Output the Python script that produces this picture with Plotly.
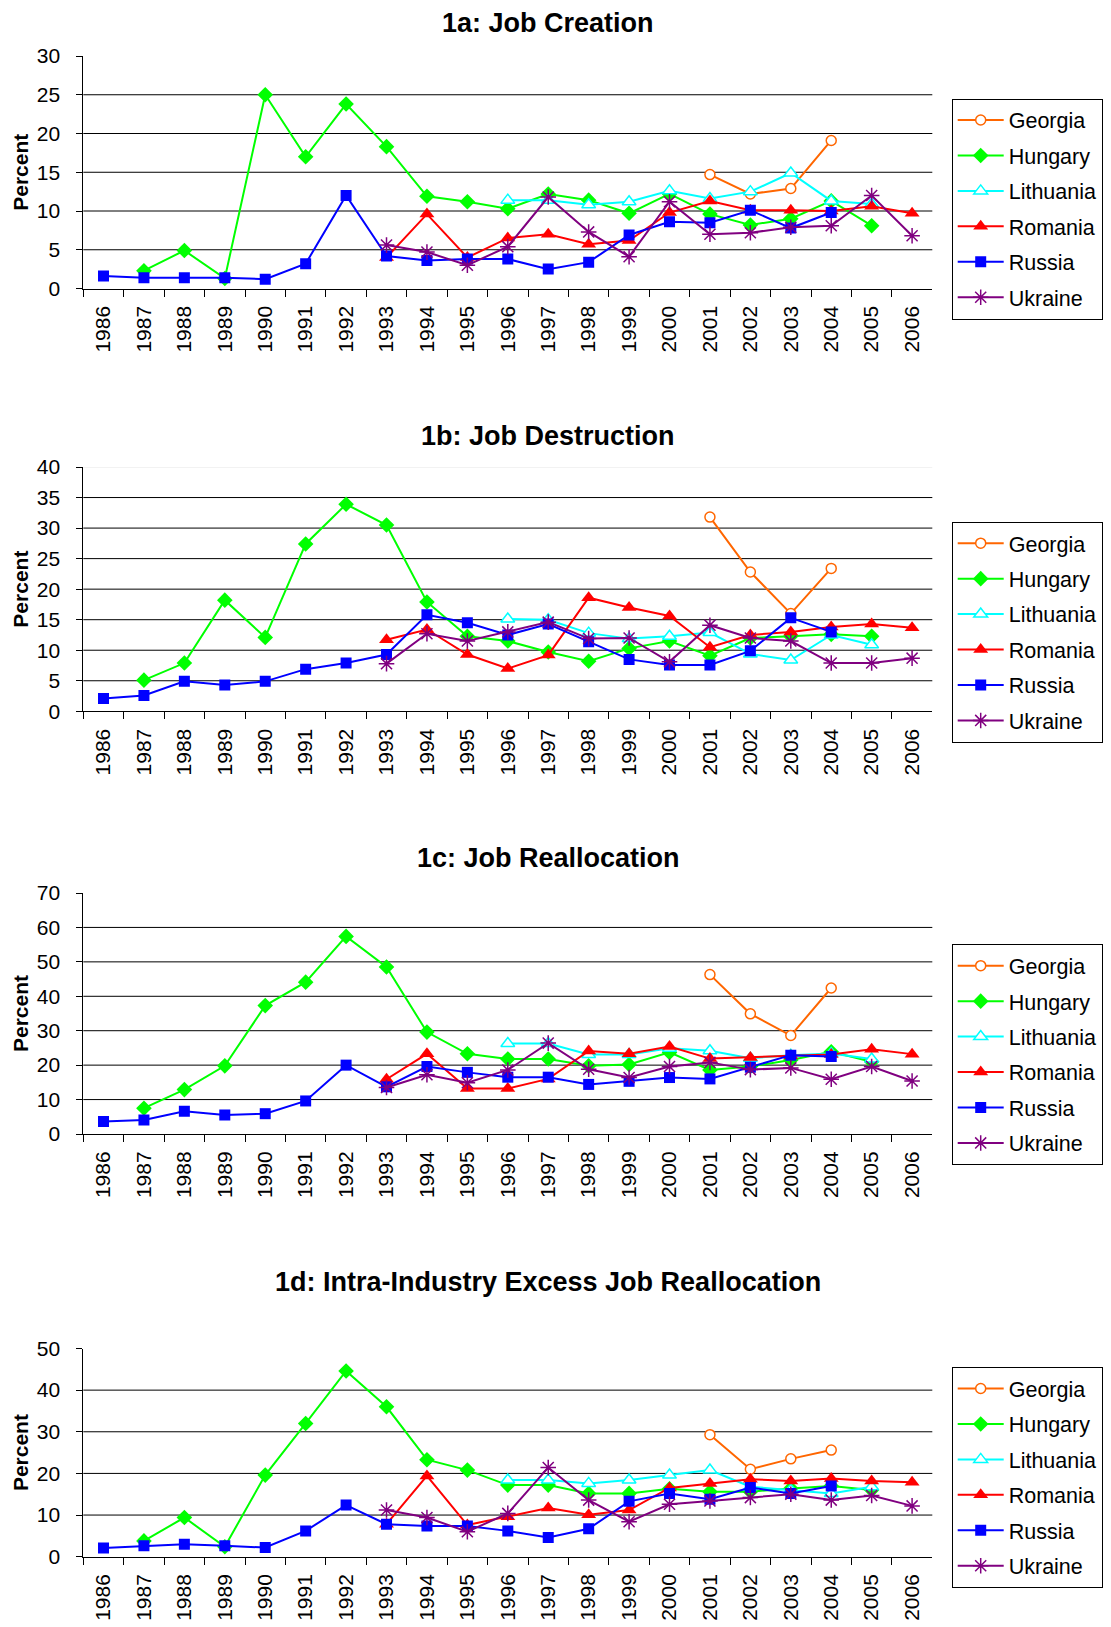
import plotly.graph_objects as go

# ---------------- data ----------------
years = ["1986", "1987", "1988", "1989", "1990", "1991", "1992", "1993", "1994", "1995",
         "1996", "1997", "1998", "1999", "2000", "2001", "2002", "2003", "2004", "2005", "2006"]
countries = ["Georgia", "Hungary", "Lithuania", "Romania", "Russia", "Ukraine"]
N = None

# 1a: Job Creation
a_georgia = [N]*15 + [14.7, 12.2, 12.9, 19.1, N, N]
a_hungary = [N, 2.3, 4.9, 1.3, 25.0, 17.0, 23.8, 18.3, 11.9, 11.2, 10.3, 12.2, 11.4, 9.7, 12.2, 9.6, 8.2, 9.0, 11.3, 8.1, N]
a_lithuania = [N]*10 + [11.4, 11.4, 10.8, 11.2, 12.6, 11.6, 12.5, 14.9, 11.3, 10.9, N]
a_romania = [N]*7 + [4.0, 9.6, 4.0, 6.5, 7.0, 5.7, 6.2, 9.8, 11.3, 10.1, 10.1, 10.0, 10.6, 9.7]
a_russia = [1.6, 1.4, 1.4, 1.4, 1.2, 3.2, 12.0, 4.2, 3.6, 3.8, 3.8, 2.5, 3.4, 6.9, 8.6, 8.5, 10.1, 7.8, 9.8, N, N]
a_ukraine = [N]*7 + [5.6, 4.7, 3.0, 5.4, 11.8, 7.3, 4.1, 11.2, 7.0, 7.2, 7.9, 8.1, 12.0, 6.8]

# 1b: Job Destruction
b_georgia = [N]*15 + [31.8, 22.8, 16.0, 23.4, N, N]
b_hungary = [N, 5.1, 7.9, 18.2, 12.1, 27.4, 33.9, 30.5, 17.9, 12.3, 11.5, 9.7, 8.2, 10.3, 11.5, 9.1, 12.0, 12.3, 12.6, 12.3, N]
b_lithuania = [N]*10 + [15.1, 15.0, 12.8, 11.9, 12.3, 12.9, 9.4, 8.4, 12.5, 10.9, N]
b_romania = [N]*7 + [11.7, 13.4, 9.3, 7.0, 9.2, 18.6, 17.0, 15.6, 10.5, 12.5, 13.0, 13.8, 14.3, 13.7]
b_russia = [2.1, 2.6, 4.9, 4.3, 4.9, 6.9, 7.9, 9.3, 15.8, 14.5, 12.5, 14.3, 11.4, 8.5, 7.6, 7.6, 9.9, 15.3, 13.0, N, N]
b_ukraine = [N]*7 + [7.8, 12.7, 11.5, 13.0, 14.6, 11.9, 12.0, 8.1, 14.1, 12.0, 11.5, 7.9, 7.9, 8.7]

# 1c: Job Reallocation
c_georgia = [N]*15 + [46.3, 34.9, 28.6, 42.4, N, N]
c_hungary = [N, 7.5, 12.9, 19.8, 37.3, 44.1, 57.4, 48.5, 29.6, 23.3, 21.8, 21.8, 19.8, 20.2, 23.7, 18.6, 19.6, 21.5, 23.9, 21.0, N]
c_lithuania = [N]*10 + [26.3, 26.3, 23.1, 23.1, 24.9, 24.2, 22.0, 22.9, 23.4, 21.8, N]
c_romania = [N]*7 + [15.9, 23.3, 13.2, 13.2, 16.0, 24.1, 23.3, 25.4, 21.9, 22.2, 22.7, 23.1, 24.6, 23.2]
c_russia = [3.6, 4.1, 6.6, 5.5, 5.9, 9.6, 20.0, 13.7, 19.6, 17.9, 16.5, 16.5, 14.4, 15.3, 16.4, 16.0, 19.4, 22.9, 22.5, N, N]
c_ukraine = [N]*7 + [13.5, 17.2, 14.9, 18.6, 26.4, 18.8, 16.4, 19.6, 20.8, 18.7, 19.2, 15.9, 19.6, 15.4]

# 1d: Intra-Industry Excess Job Reallocation
d_georgia = [N]*15 + [29.3, 21.0, 23.5, 25.6, N, N]
d_hungary = [N, 3.8, 9.4, 2.4, 19.6, 32.0, 44.6, 36.0, 23.3, 20.8, 17.2, 17.2, 15.2, 15.2, 16.3, 15.6, 15.6, 16.4, 17.0, 16.0, N]
d_lithuania = [N]*10 + [18.4, 18.4, 17.6, 18.4, 19.6, 20.8, 16.8, 16.0, 15.2, 16.8, N]
d_romania = [N]*7 + [7.8, 19.4, 7.6, 9.6, 11.7, 10.1, 11.2, 16.5, 17.6, 18.6, 18.2, 18.8, 18.2, 17.9]
d_russia = [2.1, 2.6, 3.0, 2.6, 2.2, 6.2, 12.4, 7.8, 7.4, 7.4, 6.2, 4.6, 6.7, 13.3, 15.2, 13.8, 16.6, 15.2, 17.0, N, N]
d_ukraine = [N]*7 + [11.2, 9.4, 6.0, 10.4, 21.4, 13.6, 8.4, 12.6, 13.4, 14.2, 15.0, 13.6, 14.7, 12.2]

panel_titles = ["1a: Job Creation", "1b: Job Destruction", "1c: Job Reallocation",
                "1d: Intra-Industry Excess Job Reallocation"]
y_max = [30, 40, 70, 50]
y_step = [5, 5, 10, 10]
panel_data = [
    [a_georgia, a_hungary, a_lithuania, a_romania, a_russia, a_ukraine],
    [b_georgia, b_hungary, b_lithuania, b_romania, b_russia, b_ukraine],
    [c_georgia, c_hungary, c_lithuania, c_romania, c_russia, c_ukraine],
    [d_georgia, d_hungary, d_lithuania, d_romania, d_russia, d_ukraine],
]

# ---------------- styling ----------------
OFF = 8  # browser body margin compensation
W, H = 1111 - OFF, 1627 - OFF
FONT = "Liberation Sans, Arial, sans-serif"
line_colors = {"Georgia": "#FF6600", "Hungary": "#00FF00", "Lithuania": "#00FFFF",
               "Romania": "#FF0000", "Russia": "#0000FF", "Ukraine": "#800080"}
markers = {
    "Georgia": dict(symbol="circle", size=10, color="white", line=dict(color="#FF6600", width=1.5)),
    "Hungary": dict(symbol="diamond", size=12, color="#00FF00", line=dict(color="#00FF00", width=0)),
    "Lithuania": dict(symbol="triangle-up", size=12, color="white", line=dict(color="#00FFFF", width=1.5)),
    "Romania": dict(symbol="triangle-up", size=13, color="#FF0000", line=dict(color="#FF0000", width=0)),
    "Russia": dict(symbol="square", size=11, color="#0000FF", line=dict(color="#0000FF", width=0)),
    "Ukraine": dict(symbol="asterisk-open", size=13, color="#800080", line=dict(color="#800080", width=1.5)),
}

# pixel layout in reference coordinates (top-origin)
plot_left, plot_right = 83.3, 932.3
plot_tops = [56, 467, 893, 1348.5]
plot_bottoms = [288.5, 711.3, 1134, 1556.7]
title_y = [23, 436, 858, 1282]
legend_tops = [98.5, 521.7, 944.2, 1367.0]
legend_left = 951.7


def px_x(v):
    return (v - OFF) / W


def px_y(v):
    return 1 - (v - OFF) / H


fig = go.Figure()
layout = dict(
    width=W, height=H, autosize=False,
    margin=dict(l=0, r=0, t=0, b=0, pad=0),
    paper_bgcolor="white", plot_bgcolor="white",
    font=dict(family=FONT, size=21, color="black"),
    annotations=[], shapes=[],
)

for p in range(4):
    sfx = "" if p == 0 else str(p + 1)
    xname, yname = "x" + sfx, "y" + sfx
    legname = "legend" + sfx
    for ci, cname in enumerate(countries):
        fig.add_trace(go.Scatter(
            x=years, y=panel_data[p][ci], name=cname, mode="lines+markers",
            line=dict(color=line_colors[cname], width=2),
            marker=markers[cname],
            xaxis=xname, yaxis=yname, legend=legname,
            legendgroup=f"p{p}-{cname}", connectgaps=False,
        ))
    layout["xaxis" + sfx] = dict(
        domain=[px_x(plot_left), px_x(plot_right)], anchor=yname, type="category",
        categoryorder="array", categoryarray=years,
        range=[-0.5, len(years) - 0.5], automargin=False,
        showline=True, linecolor="black", linewidth=1, mirror=False,
        ticks="outside", ticklen=7, tickcolor="black", tickson="boundaries",
        tickangle=-90, showgrid=False, zeroline=False,
        tickfont=dict(family=FONT, size=21, color="black"),
        ticklabelstandoff=8, fixedrange=True,
    )
    layout["yaxis" + sfx] = dict(
        domain=[px_y(plot_bottoms[p]), px_y(plot_tops[p])], anchor=xname,
        range=[0, y_max[p]], dtick=y_step[p], tick0=0, automargin=False,
        showline=True, linecolor="black", linewidth=1,
        ticks="outside", ticklen=6, tickcolor="black",
        showgrid=False, zeroline=False,
        tickfont=dict(family=FONT, size=21, color="black"),
        ticklabelstandoff=12, fixedrange=True,
    )
    # horizontal gridlines (no line at the top value, except faint one in 1b)
    v = y_step[p]
    while v < y_max[p]:
        layout["shapes"].append(dict(
            type="line", xref=xname + " domain", yref=yname, x0=0, x1=1, y0=v, y1=v,
            line=dict(color="black", width=1), layer="below"))
        v += y_step[p]
    if p == 1:
        layout["shapes"].append(dict(
            type="line", xref=xname + " domain", yref=yname, x0=0, x1=1,
            y0=y_max[p], y1=y_max[p], line=dict(color="#E6E6E6", width=1), layer="below"))
    # panel title
    layout["annotations"].append(dict(
        text="<b>" + panel_titles[p] + "</b>", xref="paper", yref="paper",
        x=px_x(548), y=px_y(title_y[p]), xanchor="center", yanchor="middle",
        showarrow=False, font=dict(family=FONT, size=27, color="black")))
    # y-axis title
    layout["annotations"].append(dict(
        text="<b>Percent</b>", xref="paper", yref="paper", textangle=-90,
        x=0, y=px_y((plot_tops[p] + plot_bottoms[p]) / 2),
        xanchor="left", yanchor="middle", showarrow=False, borderpad=0,
        font=dict(family=FONT, size=21, color="black")))
    layout[legname] = dict(
        x=px_x(legend_left), y=px_y(legend_tops[p]), xanchor="left", yanchor="top",
        bgcolor="white", bordercolor="black", borderwidth=1,
        font=dict(family=FONT, size=21.5, color="black"),
        tracegroupgap=4.5, itemwidth=46, traceorder="grouped",
    )

fig.update_layout(**layout)
fig.write_html("out.html")
